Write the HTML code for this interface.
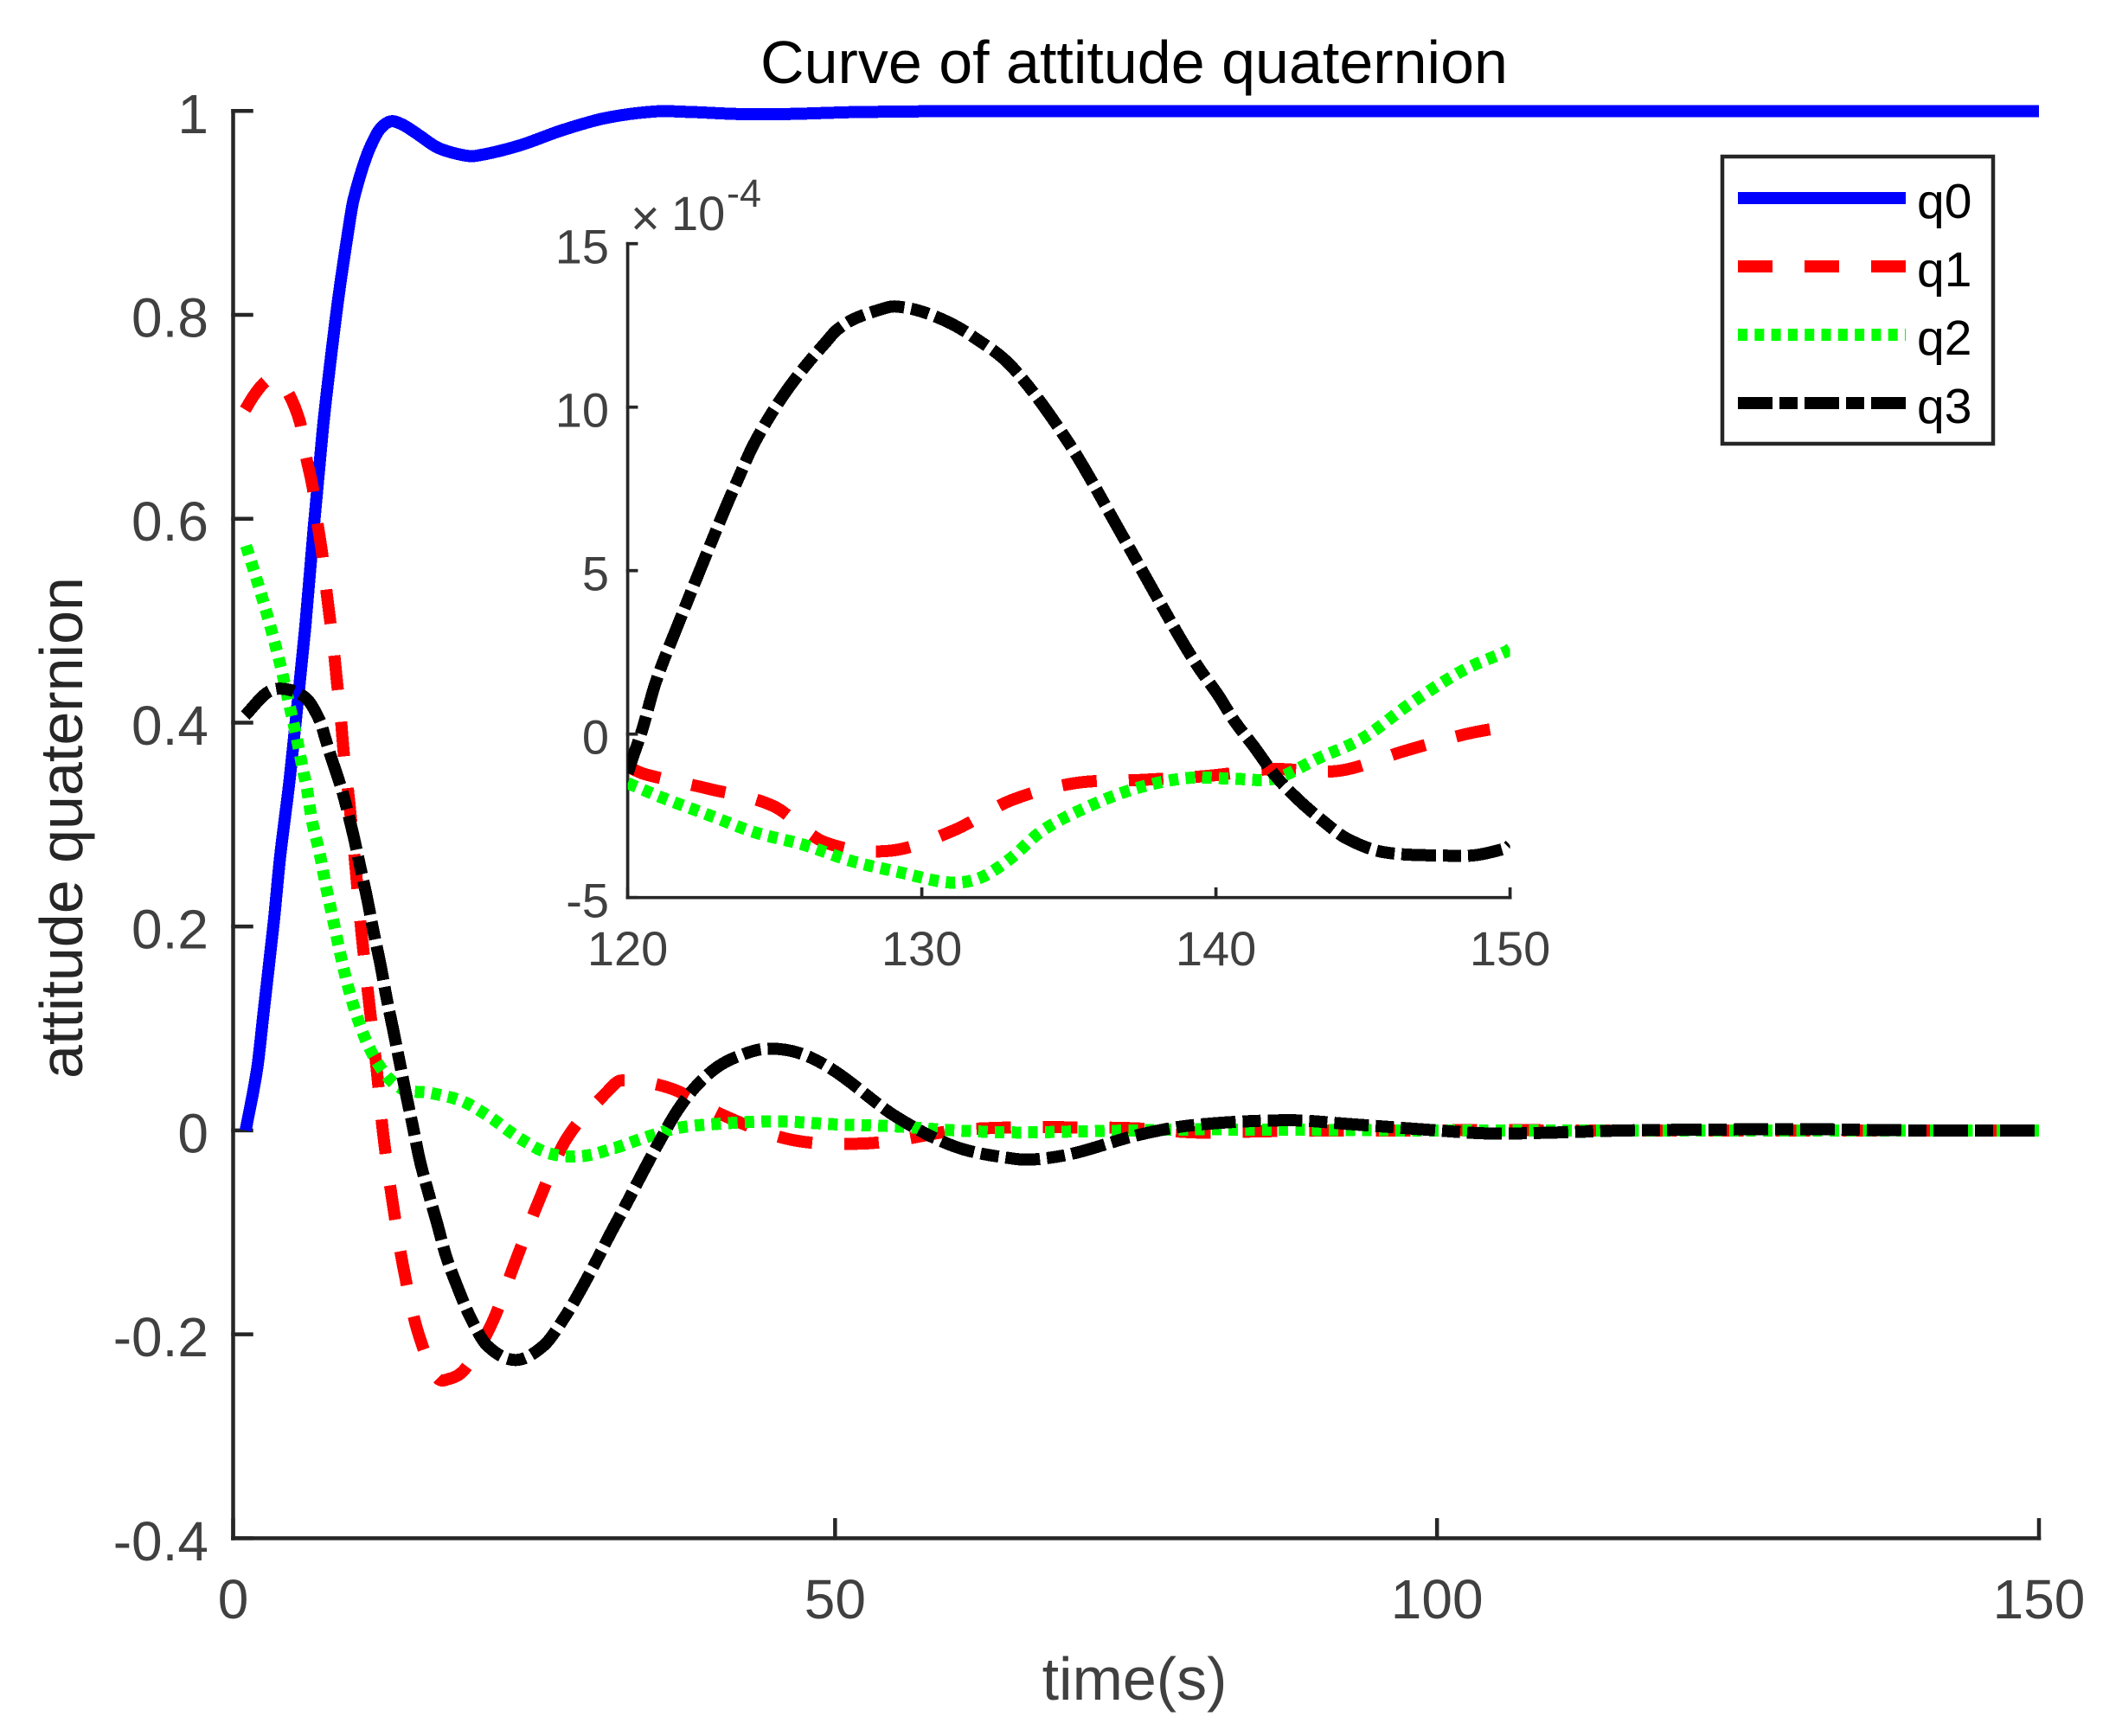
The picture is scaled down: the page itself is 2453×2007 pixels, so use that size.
<!DOCTYPE html>
<html>
<head>
<meta charset="utf-8">
<title>Curve of attitude quaternion</title>
<style>
html,body{margin:0;padding:0;background:#fff;}
svg{display:block;}
text{font-family:"Liberation Sans",Arial,sans-serif;}
</style>
</head>
<body>
<svg id="chart" xmlns="http://www.w3.org/2000/svg" width="2453" height="2007" viewBox="0 0 2453 2007">
<defs>
<clipPath id="main-clip"><rect x="269.5" y="100" width="2087.5" height="1678.3"/></clipPath>
<clipPath id="inset-clip"><rect x="725.6" y="281.7" width="1020" height="756"/></clipPath>
</defs>
<rect x="0" y="0" width="2453" height="2007" fill="#ffffff"/>
<g id="main-axes"></g>
<g id="main-series" clip-path="url(#main-clip)" shape-rendering="crispEdges"></g>
<g id="inset-axes"></g>
<g id="inset-series" clip-path="url(#inset-clip)" shape-rendering="crispEdges"></g>
<text x="1311" y="96" font-size="70" text-anchor="middle" fill="#000000">Curve of attitude quaternion</text>
<text x="1311.5" y="1965" font-size="70" text-anchor="middle" fill="#404040">time(s)</text>
<text transform="translate(95,957) rotate(-90)" x="0" y="0" font-size="70" text-anchor="middle" fill="#262626">attitude quaternion</text>
<text x="729" y="272" font-size="58" fill="#404040">×</text>
<text x="776" y="266" font-size="56" fill="#404040">10</text>
<text x="840" y="239" font-size="45" fill="#404040">-4</text>
<g id="legend">
<rect x="1991" y="181" width="313" height="332" fill="#ffffff" stroke="#262626" stroke-width="4.5"/>
</g>
</svg>
<script>
// Main plot: tick labels
var mainXTicks = [0, 50, 100, 150];
var mainYTicks = [-0.4, -0.2, 0, 0.2, 0.4, 0.6, 0.8, 1];
var mainYTickLabels = ['-0.4', '-0.2', '0', '0.2', '0.4', '0.6', '0.8', '1'];

// Inset plot: tick labels
var insetXTicks = [120, 130, 140, 150];
var insetYTicks = [-5, 0, 5, 10, 15];

// Legend
var seriesNames = ['q0', 'q1', 'q2', 'q3'];

// Main plot: q0
var q0Time = [1.04, 2, 2.55, 3.38, 3.9, 4.7, 5.3, 6, 6.7, 7.45, 8.06, 8.78, 9.66, 10, 11, 11.9, 12.5, 13.2, 14.17, 15.35, 17, 18.95, 20.16, 23.75, 27.3, 30.9, 35, 38, 42, 46, 52, 60, 80, 100, 150];
var q0Value = [0, 0.061, 0.118, 0.205, 0.268, 0.345, 0.413, 0.495, 0.592, 0.688, 0.752, 0.82, 0.89, 0.913, 0.953, 0.977, 0.986, 0.99, 0.986, 0.977, 0.964, 0.957, 0.956, 0.966, 0.981, 0.993, 0.9995, 0.999, 0.997, 0.997, 0.999, 1, 1, 1, 1];

// Main plot: q1
var q1Time = [1, 1.71, 2.55, 3.4, 4.47, 5.55, 6.02, 6.62, 6.98, 7.39, 7.7, 8.06, 8.37, 8.66, 8.95, 9.19, 9.62, 10.17, 10.67, 11.27, 11.9, 12.45, 13.2, 14.1, 15.28, 16.85, 17.96, 19.33, 21.5, 23.4, 25.4, 27.7, 31.15, 32.25, 36.4, 40.5, 45, 48, 52, 55, 60, 65, 70, 75, 80, 85, 90, 100, 105, 110, 120, 130, 150];
var q1Value = [0.707, 0.7207, 0.733, 0.738, 0.7255, 0.695, 0.663, 0.63, 0.598, 0.566, 0.534, 0.5, 0.47, 0.436, 0.404, 0.37, 0.325, 0.258, 0.193, 0.128, 0.063, -0.002, -0.067, -0.132, -0.195, -0.241, -0.2436, -0.233, -0.189, -0.13, -0.069, -0.008, 0.039, 0.049, 0.041, 0.016, -0.005, -0.012, -0.013, -0.01, 0, 0.003, 0.003, 0.002, -0.002, -0.001, 0, 0, 0.0005, 0, 0, 0, 0];

// Main plot: q2
var q2Time = [1.07, 1.52, 2.31, 3.08, 3.77, 4.1, 4.7, 5.3, 5.83, 6.12, 6.54, 7.18, 7.72, 8.28, 8.87, 9.48, 10.25, 11.27, 12.65, 14.1, 16.44, 19.05, 21.4, 23.7, 26.2, 28.96, 31.7, 34.2, 36.9, 39.7, 45, 50, 55, 60, 65, 70, 75, 80, 100, 150];
var q2Value = [0.5736, 0.557, 0.5266, 0.495, 0.464, 0.4477, 0.4157, 0.384, 0.352, 0.336, 0.3045, 0.272, 0.239, 0.208, 0.175, 0.144, 0.113, 0.082, 0.055, 0.0405, 0.0366, 0.0286, 0.0125, -0.007, -0.0223, -0.0252, -0.0172, -0.007, 0.0023, 0.006, 0.009, 0.006, 0.004, 0, -0.002, -0.001, 0, 0.001, 0, 0];

// Main plot: q3
var q3Time = [1, 2.9, 4.47, 6.14, 7.2, 7.65, 8.06, 8.9, 9.29, 9.98, 10.53, 11.14, 11.63, 12.24, 12.73, 13.28, 13.83, 14.38, 14.93, 15.48, 16.22, 16.94, 17.68, 18.65, 19.69, 21.1, 23.46, 25.8, 27.44, 28.8, 30.3, 31.3, 32.75, 33.9, 35.4, 36.93, 38.5, 40.2, 42, 44.2, 47, 50, 55, 60, 65, 67, 70, 75, 79.6, 87.5, 93, 100, 104.4, 110, 115.6, 125, 130, 140, 150];
var q3Value = [0.407, 0.43, 0.4327, 0.423, 0.402, 0.385, 0.369, 0.339, 0.323, 0.29, 0.26, 0.227, 0.197, 0.1625, 0.131, 0.0995, 0.067, 0.0345, 0.004, -0.028, -0.061, -0.091, -0.123, -0.154, -0.183, -0.211, -0.2252, -0.211, -0.185, -0.158, -0.125, -0.102, -0.07, -0.044, -0.011, 0.02, 0.044, 0.062, 0.073, 0.08, 0.076, 0.058, 0.014, -0.016, -0.028, -0.028, -0.022, -0.005, 0.005, 0.01, 0.006, 0, -0.003, -0.002, 0, 0.001, 0.0013, 0, 0];

// Inset plot (values in units of 1e-4): q1
var insetQ1Time = [120, 120.6, 122.74, 124.95, 126.68, 128.9, 131.07, 133.05, 135.2, 137.5, 139.7, 141.9, 144.2, 146.4, 148.5, 150];
var insetQ1Value = [-1, -1.23, -1.67, -2.2, -3.3, -3.57, -2.95, -2.02, -1.5, -1.4, -1.28, -1.07, -1.12, -0.52, 0, 0.25];

// Inset plot: q2
var insetQ2Time = [120, 121.16, 122.74, 124.3, 126, 127.6, 129.27, 130.95, 131.97, 132.98, 134.1, 135.8, 137.4, 139.06, 140.5, 142, 143.45, 145, 146.6, 148.4, 149.86, 150];
var insetQ2Value = [-1.5, -1.94, -2.47, -3, -3.39, -3.88, -4.23, -4.54, -4.4, -3.83, -2.95, -2.16, -1.63, -1.34, -1.36, -1.36, -0.75, -0.12, 0.93, 1.95, 2.52, 2.6];

// Inset plot: q3
var insetQ3Time = [120, 120.16, 120.5, 120.94, 121.6, 123.2, 123.8, 124.25, 124.85, 125.44, 126.08, 126.75, 127.1, 127.7, 128.75, 129.1, 129.9, 130.9, 131.75, 133.1, 135, 136.8, 138.27, 138.83, 139.4, 140.07, 140.63, 141.3, 141.98, 142.77, 143.67, 144.46, 145.7, 147.95, 148.85, 149.9, 150];
var insetQ3Value = [-1.2, -0.75, 0.15, 1.55, 3.1, 6.65, 7.9, 8.8, 9.75, 10.55, 11.3, 12, 12.35, 12.7, 13.03, 13.08, 12.95, 12.6, 12.15, 11.2, 8.9, 6.1, 3.75, 2.87, 2.05, 1.2, 0.4, -0.39, -1.23, -1.98, -2.68, -3.2, -3.61, -3.72, -3.7, -3.48, -3.4];

var NS = 'http://www.w3.org/2000/svg';

function xMain(t) { return 269.5 + (t - 0) * (2357 - 269.5) / 150; }
function yMain(v) { return 128.3 + (1 - v) * 1178.6; }
function xInset(t) { return 725.6 + (t - 120) * (1745.6 - 725.6) / 30; }
function yInset(v) { return 281.7 + (15 - v) * 37.8; }

function make(tag, parent) {
  var el = document.createElementNS(NS, tag);
  parent.appendChild(el);
  return el;
}

function curvePath(times, values, xf, yf) {
  var n = times.length, d = '', i;
  var m = [];
  for (i = 0; i < n; i++) {
    var a = Math.max(0, i - 1), b = Math.min(n - 1, i + 1);
    m.push((yf(values[b]) - yf(values[a])) / (xf(times[b]) - xf(times[a])));
  }
  d = 'M' + xf(times[0]).toFixed(2) + ' ' + yf(values[0]).toFixed(2);
  for (i = 0; i < n - 1; i++) {
    var x0 = xf(times[i]), x1 = xf(times[i + 1]);
    var y0 = yf(values[i]), y1 = yf(values[i + 1]);
    var h = (x1 - x0) / 3;
    d += 'C' + (x0 + h).toFixed(2) + ' ' + (y0 + m[i] * h).toFixed(2) + ' ' +
         (x1 - h).toFixed(2) + ' ' + (y1 - m[i + 1] * h).toFixed(2) + ' ' +
         x1.toFixed(2) + ' ' + y1.toFixed(2);
  }
  return d;
}

function styleLine(el, color, dash, width) {
  el.setAttribute('fill', 'none');
  el.setAttribute('stroke', color);
  el.setAttribute('stroke-width', width);
  el.setAttribute('stroke-linejoin', 'round');
  if (dash) { el.setAttribute('stroke-dasharray', dash); }
}

function drawSegment(parent, x1, y1, x2, y2, w, color) {
  var l = make('line', parent);
  l.setAttribute('x1', x1);
  l.setAttribute('y1', y1);
  l.setAttribute('x2', x2);
  l.setAttribute('y2', y2);
  l.setAttribute('stroke', color);
  l.setAttribute('stroke-width', w);
  l.setAttribute('stroke-linecap', 'square');
  return l;
}

function drawLabel(parent, x, y, str, size, anchor) {
  var t = make('text', parent);
  t.setAttribute('x', x);
  t.setAttribute('y', y);
  t.setAttribute('font-size', size);
  t.setAttribute('text-anchor', anchor);
  t.setAttribute('fill', '#404040');
  t.textContent = str;
  return t;
}

var colors = ['#0000ff', '#ff0000', '#00ff00', '#000000'];
var dashes = ['', '40 37', '11 8.3', '40 8 21 8'];
var lineWidth = 14;

// ---- Main axes ----
var mainAxes = document.getElementById('main-axes');
var a1 = drawSegment(mainAxes, xMain(0), yMain(1), xMain(0), yMain(-0.4), 4.5, '#262626');


var a2 = drawSegment(mainAxes, xMain(0), yMain(-0.4), xMain(150), yMain(-0.4), 4.5, '#262626');



mainXTicks.forEach(function (t) {
  var tick = drawSegment(mainAxes, xMain(t), yMain(-0.4), xMain(t), yMain(-0.4) - 21, 4.5, '#262626');
  
  
  var lab = drawLabel(mainAxes, xMain(t), 1871, String(t), 64, 'middle');
  
  
});
mainYTicks.forEach(function (v, i) {
  var tick = drawSegment(mainAxes, xMain(0), yMain(v), xMain(0) + 21, yMain(v), 4.5, '#262626');
  
  
  var lab = drawLabel(mainAxes, 241, yMain(v) + 25.5, mainYTickLabels[i], 64, 'end');
  
  
});

// ---- Main series ----
var mainSeries = document.getElementById('main-series');
var p0 = make('path', mainSeries);


p0.setAttribute('d', curvePath(q0Time, q0Value, xMain, yMain));
styleLine(p0, colors[0], dashes[0], lineWidth);
var p1 = make('path', mainSeries);


p1.setAttribute('d', curvePath(q1Time, q1Value, xMain, yMain));
styleLine(p1, colors[1], dashes[1], lineWidth);
var p2 = make('path', mainSeries);


p2.setAttribute('d', curvePath(q2Time, q2Value, xMain, yMain));
styleLine(p2, colors[2], dashes[2], lineWidth);
var p3 = make('path', mainSeries);


p3.setAttribute('d', curvePath(q3Time, q3Value, xMain, yMain));
styleLine(p3, colors[3], dashes[3], lineWidth);

// ---- Inset axes ----
var insetAxes = document.getElementById('inset-axes');
var b1 = drawSegment(insetAxes, xInset(120), yInset(15), xInset(120), yInset(-5), 3.7, '#262626');


var b2 = drawSegment(insetAxes, xInset(120), yInset(-5), xInset(150), yInset(-5), 3.7, '#262626');


insetXTicks.forEach(function (t) {
  var tick = drawSegment(insetAxes, xInset(t), yInset(-5), xInset(t), yInset(-5) - 10, 3.7, '#262626');
  
  
  var lab = drawLabel(insetAxes, xInset(t), 1116, String(t), 56, 'middle');
  
  
});
insetYTicks.forEach(function (v) {
  var tick = drawSegment(insetAxes, xInset(120), yInset(v), xInset(120) + 10, yInset(v), 3.7, '#262626');
  
  
  var lab = drawLabel(insetAxes, 704, yInset(v) + 23, String(v), 56, 'end');
  
  
});

// ---- Inset series ----
var insetSeries = document.getElementById('inset-series');
var i1 = make('path', insetSeries);


i1.setAttribute('d', curvePath(insetQ1Time, insetQ1Value, xInset, yInset));
styleLine(i1, colors[1], dashes[1], lineWidth);
var i2 = make('path', insetSeries);


i2.setAttribute('d', curvePath(insetQ2Time, insetQ2Value, xInset, yInset));
styleLine(i2, colors[2], dashes[2], lineWidth);
var i3 = make('path', insetSeries);


i3.setAttribute('d', curvePath(insetQ3Time, insetQ3Value, xInset, yInset));
styleLine(i3, colors[3], dashes[3], lineWidth);

// ---- Legend ----
var legend = document.getElementById('legend');
seriesNames.forEach(function (name, i) {
  var rowY = 229 + i * 79;
  var ln = make('line', legend);
  
  
  ln.setAttribute('x1', 2009);
  ln.setAttribute('y1', rowY);
  ln.setAttribute('x2', 2203);
  ln.setAttribute('y2', rowY);
  styleLine(ln, colors[i], dashes[i], 14);
  var lb = make('text', legend);
  
  
  lb.setAttribute('x', 2216);
  lb.setAttribute('y', rowY + 23);
  lb.setAttribute('font-size', 57);
  lb.setAttribute('fill', '#000000');
  lb.textContent = name;
});
</script>
</body>
</html>
